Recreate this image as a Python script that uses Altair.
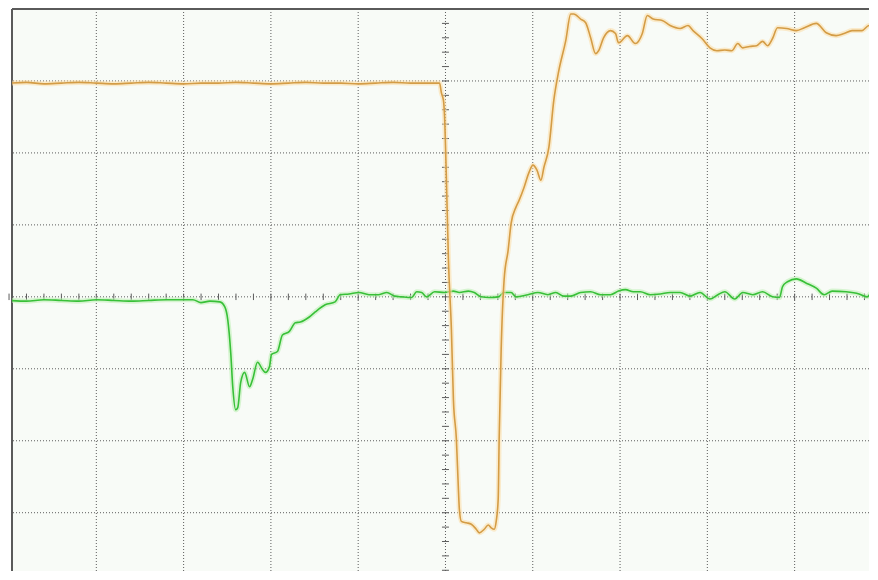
import altair as alt
import pandas as pd

# Oscilloscope capture, units = screen divisions (10 x 8 grid, centre at x=5, y=0)
orange_t = [0.00, 0.20, 0.40, 0.60, 0.80, 1.00, 1.20, 1.40, 1.60, 1.80, 2.00, 2.20, 2.40,
            2.60, 2.80, 3.00, 3.20, 3.40, 3.60, 3.80, 4.00, 4.20, 4.40, 4.60, 4.80,
            4.932, 4.954, 4.977, 4.989, 5.011, 5.034, 5.068, 5.091, 5.125, 5.148, 5.159,
            5.182, 5.239, 5.296, 5.353, 5.387, 5.444, 5.490, 5.524, 5.558, 5.581, 5.604,
            5.615, 5.638, 5.672, 5.718, 5.752, 5.809, 5.843, 5.900, 5.957, 6.002, 6.048,
            6.093, 6.128, 6.185, 6.241, 6.298, 6.378, 6.435, 6.469, 6.549, 6.606, 6.663,
            6.720, 6.754, 6.811, 6.891, 6.948, 6.982, 7.085, 7.175, 7.255, 7.312, 7.380,
            7.483, 7.574, 7.688, 7.779, 7.836, 7.938, 8.030, 8.109, 8.200, 8.280, 8.349,
            8.405, 8.485, 8.565, 8.633, 8.690, 8.747, 8.804, 8.907, 9.021, 9.112, 9.248,
            9.362, 9.476, 9.567, 9.658, 9.772, 9.852, 9.932]
orange_v = [2.97, 2.98, 2.96, 2.97, 2.98, 2.97, 2.96, 2.97, 2.98, 2.97, 2.96, 2.97, 2.97,
            2.98, 2.97, 2.96, 2.97, 2.98, 2.97, 2.97, 2.96, 2.97, 2.98, 2.97, 2.97,
            2.97, 2.83, 2.73, 2.52, 1.62, 0.51, -0.46, -1.43, -1.98, -2.67, -2.95,
            -3.12, -3.14, -3.16, -3.23, -3.28, -3.23, -3.17, -3.21, -3.23, -3.12, -2.81,
            -1.98, -0.73, 0.24, 0.65, 1.02, 1.25, 1.34, 1.52, 1.73, 1.83, 1.76,
            1.62, 1.80, 2.08, 2.73, 3.14, 3.56, 3.93, 3.93, 3.86, 3.81, 3.60,
            3.38, 3.42, 3.60, 3.70, 3.66, 3.53, 3.63, 3.52, 3.66, 3.91, 3.86,
            3.84, 3.77, 3.73, 3.77, 3.70, 3.59, 3.46, 3.42, 3.43, 3.42, 3.52,
            3.46, 3.48, 3.49, 3.55, 3.49, 3.59, 3.74, 3.73, 3.70, 3.74, 3.80,
            3.67, 3.63, 3.66, 3.70, 3.70, 3.77, 3.73]

green_t = [0.00, 0.20, 0.40, 0.60, 0.80, 1.00, 1.20, 1.40, 1.60, 1.80, 2.107, 2.198, 2.301,
           2.415, 2.472, 2.506, 2.540, 2.563, 2.597, 2.620, 2.654, 2.699, 2.756, 2.790,
           2.847, 2.904, 2.938, 2.984, 3.007, 3.075, 3.132, 3.212, 3.280, 3.337, 3.440,
           3.508, 3.622, 3.736, 3.793, 3.895, 4.009, 4.123, 4.237, 4.328, 4.419, 4.499,
           4.613, 4.670, 4.727, 4.784, 4.875, 4.989, 5.091, 5.159, 5.262, 5.330, 5.410,
           5.501, 5.604, 5.672, 5.752, 5.809, 5.945, 6.059, 6.173, 6.264, 6.355, 6.435,
           6.549, 6.663, 6.777, 6.891, 6.982, 7.062, 7.153, 7.232, 7.346, 7.460, 7.574,
           7.688, 7.802, 7.916, 8.030, 8.121, 8.200, 8.314, 8.405, 8.519, 8.633, 8.747,
           8.827, 8.861, 8.918, 9.021, 9.134, 9.248, 9.339, 9.430, 9.590, 9.738, 9.829,
           9.886, 9.943]
green_v = [-0.05, -0.06, -0.04, -0.05, -0.06, -0.04, -0.05, -0.06, -0.05, -0.04, -0.04, -0.08, -0.06,
           -0.07, -0.14, -0.32, -0.78, -1.25, -1.57, -1.54, -1.19, -1.05, -1.25, -1.15,
           -0.91, -1.01, -1.05, -0.97, -0.80, -0.76, -0.53, -0.48, -0.36, -0.35, -0.28,
           -0.21, -0.11, -0.07, 0.03, 0.04, 0.06, 0.03, 0.03, 0.06, 0.01, 0.00,
           -0.01, 0.07, 0.06, 0.00, 0.07, 0.06, 0.08, 0.06, 0.08, 0.06, 0.00,
           -0.01, 0.00, 0.06, 0.06, 0.00, 0.03, 0.06, 0.03, 0.06, 0.01, 0.01,
           0.06, 0.07, 0.03, 0.03, 0.08, 0.10, 0.07, 0.07, 0.03, 0.04, 0.06,
           0.06, 0.01, 0.06, -0.03, 0.03, 0.07, -0.03, 0.06, 0.03, 0.07, 0.00,
           -0.01, 0.14, 0.21, 0.25, 0.19, 0.12, 0.03, 0.08, 0.07, 0.04, 0.00,
           0.06, 0.04]

grid_x = [1, 2, 3, 4, 5, 6, 7, 8, 9]
grid_y = [-3, -2, -1, 0, 1, 2, 3]
tick_x = [round(i * 0.2, 2) for i in range(0, 50)]
tick_y = [round(-3.8 + i * 0.2, 2) for i in range(0, 39)]

X_DOM = [0.034, 9.852]
Y_DOM = [-3.81, 4.0]
W, H = 862, 564

xs = alt.Scale(domain=X_DOM, nice=False, zero=False)
ys = alt.Scale(domain=Y_DOM, nice=False, zero=False)

orange = pd.DataFrame({"t": orange_t, "v": orange_v})
green = pd.DataFrame({"t": green_t, "v": green_v})

GRID = "#5c5c5c"

vgrid = alt.Chart(pd.DataFrame({"x": grid_x})).mark_rule(
    color=GRID, strokeDash=[1, 2], strokeWidth=1
).encode(x=alt.X("x:Q", scale=xs, axis=None))
hgrid = alt.Chart(pd.DataFrame({"y": grid_y})).mark_rule(
    color=GRID, strokeDash=[1, 2], strokeWidth=1
).encode(y=alt.Y("y:Q", scale=ys, axis=None))

xticks = alt.Chart(pd.DataFrame({"x": tick_x, "y1": [-0.045] * len(tick_x), "y2": [0.045] * len(tick_x)})).mark_rule(
    color=GRID, strokeWidth=1
).encode(x=alt.X("x:Q", scale=xs, axis=None), y=alt.Y("y1:Q", scale=ys, axis=None), y2="y2:Q")
yticks = alt.Chart(pd.DataFrame({"y": tick_y, "x1": [4.96] * len(tick_y), "x2": [5.04] * len(tick_y)})).mark_rule(
    color=GRID, strokeWidth=1
).encode(y=alt.Y("y:Q", scale=ys, axis=None), x=alt.X("x1:Q", scale=xs, axis=None), x2="x2:Q")

border_left = alt.Chart(pd.DataFrame({"x": [X_DOM[0]]})).mark_rule(
    color="#5a5a5a", strokeWidth=2
).encode(x=alt.X("x:Q", scale=xs, axis=None))
border_top = alt.Chart(pd.DataFrame({"y": [Y_DOM[1]]})).mark_rule(
    color="#5a5a5a", strokeWidth=2
).encode(y=alt.Y("y:Q", scale=ys, axis=None))


def trace(df, halo, core):
    enc = dict(x=alt.X("t:Q", scale=xs, axis=None), y=alt.Y("v:Q", scale=ys, axis=None))
    h = alt.Chart(df).mark_line(color=halo, strokeWidth=5, opacity=0.55, clip=True,
                                interpolate="monotone").encode(**enc)
    c = alt.Chart(df).mark_line(color=core, strokeWidth=1.6, clip=True,
                                interpolate="monotone").encode(**enc)
    return h + c


chart = alt.layer(
    vgrid, hgrid, xticks, yticks, border_left, border_top,
    trace(green, "#b9efb0", "#38c038"),
    trace(orange, "#fbdca6", "#d49c45"),
).properties(
    width=W, height=H, padding=0,
    autosize=alt.AutoSizeParams(type="fit", contains="padding"),
).configure_view(fill="#f8fbf7", stroke=None)

chart.save("out.html", embed_options={"renderer": "svg", "actions": False})
